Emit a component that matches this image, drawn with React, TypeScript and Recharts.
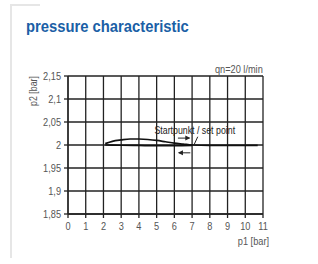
import { LineChart, Line, XAxis, YAxis, CartesianGrid, ReferenceLine, ReferenceDot } from 'recharts';

// p1 [bar] -> p2 [bar]
const p1Rising = [2.1, 2.5, 3, 3.5, 4, 4.5, 5, 5.5, 6, 6.5, 7, 8, 9, 10, 10.7];
const p2Rising = [2.003, 2.008, 2.011, 2.013, 2.013, 2.012, 2.01, 2.007, 2.004, 2.002, 2.0, 1.999, 1.999, 1.999, 1.999];
const p1Falling = [2.1, 3, 4, 5, 6, 7];
const p2Falling = [2.0, 1.9995, 1.999, 1.9985, 1.9985, 1.999];

const xTicks = [0, 1, 2, 3, 4, 5, 6, 7, 8, 9, 10, 11];
const yTicks = [1.85, 1.9, 1.95, 2, 2.05, 2.1, 2.15];

const rising = p1Rising.map((p1, i) => ({ p1, p2: p2Rising[i] }));
const falling = p1Falling.map((p1, i) => ({ p1, p2: p2Falling[i] }));

// no Arial Narrow here, so squeeze Liberation Sans
const FONT = "'Liberation Sans', Arial, sans-serif";
const SQUEEZE = 0.8;
const INK = '#222';
const LABEL = '#555';

const XTick = (props: any) => {
  const { x, y, payload } = props;
  return (
    <g transform={`translate(${x},${y + 10})`}>
      <text transform={`scale(${SQUEEZE},1)`} textAnchor="middle" fontSize={11.5} fill={LABEL} fontFamily={FONT}>
        {payload.value}
      </text>
    </g>
  );
};
const YTick = (props: any) => {
  const { x, y, payload } = props;
  return (
    <g transform={`translate(${x - 1},${y + 4})`}>
      <text transform={`scale(${SQUEEZE},1)`} textAnchor="end" fontSize={11.5} fill={LABEL} fontFamily={FONT}>
        {String(payload.value).replace('.', ',')}
      </text>
    </g>
  );
};

const arrowRight = (props: any) => {
  const { cx, cy } = props;
  return <polygon points={`${cx},${cy} ${cx - 5},${cy - 2.5} ${cx - 5},${cy + 2.5}`} fill={INK} />;
};
const arrowLeft = (props: any) => {
  const { cx, cy } = props;
  return <polygon points={`${cx},${cy} ${cx + 5},${cy - 2.5} ${cx + 5},${cy + 2.5}`} fill={INK} />;
};
const setPointText = (props: any) => {
  const { cx, cy } = props;
  return (
    <g transform={`translate(${cx},${cy + 4})`}>
      <text transform={`scale(${SQUEEZE},1)`} textAnchor="middle" fontSize={11} fill={INK} fontFamily={FONT}>
        Startpunkt / set point
      </text>
    </g>
  );
};

const squeezed = (extra: React.CSSProperties, k = SQUEEZE): React.CSSProperties => ({
  position: 'absolute', fontFamily: FONT, whiteSpace: 'nowrap', transform: `scaleX(${k})`, ...extra,
});

export default function App() {
  return (
    <div style={{ position: 'fixed', left: 0, top: 0, width: 318, height: 264, background: '#fff', overflow: 'hidden' }}>
      {/* frame corner */}
      <div style={{ position: 'absolute', left: 10, top: 4, width: 2, height: 254, background: '#e6e6e6' }} />
      <div style={{ position: 'absolute', left: 10, top: 4, width: 30, height: 2, background: '#e6e6e6' }} />

      <div style={squeezed({ left: 26, top: 17, fontWeight: 700, fontSize: 17, color: '#1b5fa6', transformOrigin: 'left center' }, 0.87)}>
        pressure characteristic
      </div>

      <div style={squeezed({ right: 55, top: 63, fontSize: 11.5, color: LABEL, transformOrigin: 'right center' })}>
        qn=20 l/min
      </div>
      <div
        style={{
          position: 'absolute', left: 33, top: 91, fontFamily: FONT, fontSize: 11, color: LABEL, whiteSpace: 'nowrap',
          transform: `translate(-50%, -50%) rotate(-90deg) scaleX(${SQUEEZE})`,
        }}
      >
        p2 [bar]
      </div>
      <div style={squeezed({ right: 49, top: 235, fontSize: 11.5, color: LABEL, transformOrigin: 'right center' })}>
        p1 [bar]
      </div>

      <div style={{ position: 'absolute', left: 0, top: 0 }}>
        <LineChart width={318} height={264} margin={{ top: 76, right: 55, left: 28, bottom: 20 }}>
          <CartesianGrid stroke={INK} strokeWidth={1.3} strokeOpacity={1} horizontalValues={yTicks} verticalValues={xTicks} />
          <XAxis
            type="number"
            dataKey="p1"
            domain={[0, 11]}
            ticks={xTicks}
            interval={0}
            allowDataOverflow
            axisLine={{ stroke: INK, strokeWidth: 1.3 }}
            tickLine={{ stroke: INK, strokeWidth: 1.3 }}
            tickSize={4}
            height={30}
            tick={<XTick />}
          />
          <YAxis
            type="number"
            domain={[1.85, 2.15]}
            ticks={yTicks}
            interval={0}
            allowDataOverflow
            axisLine={{ stroke: INK, strokeWidth: 1.3 }}
            tickLine={{ stroke: INK, strokeWidth: 1.3 }}
            tickSize={4}
            width={40}
            tick={<YTick />}
          />
          <Line data={rising} dataKey="p2" stroke="#111" strokeWidth={1.7} dot={false} type="monotone" isAnimationActive={false} />
          <Line data={falling} dataKey="p2" stroke="#111" strokeWidth={1.7} dot={false} type="monotone" isAnimationActive={false} />

          {/* set point annotation */}
          <ReferenceDot x={7.15} y={2.032} r={0} shape={setPointText} ifOverflow="visible" />
          <ReferenceLine segment={[{ x: 7.32, y: 2.018 }, { x: 7.08, y: 1.998 }]} stroke={INK} strokeWidth={1} ifOverflow="visible" />
          <ReferenceLine segment={[{ x: 6.2, y: 2.015 }, { x: 6.85, y: 2.015 }]} stroke={INK} strokeWidth={1} ifOverflow="visible" />
          <ReferenceDot x={6.9} y={2.015} r={0} shape={arrowRight} ifOverflow="visible" />
          <ReferenceLine segment={[{ x: 6.25, y: 1.983 }, { x: 6.9, y: 1.983 }]} stroke={INK} strokeWidth={1} ifOverflow="visible" />
          <ReferenceDot x={6.2} y={1.983} r={0} shape={arrowLeft} ifOverflow="visible" />
        </LineChart>
      </div>
    </div>
  );
}
